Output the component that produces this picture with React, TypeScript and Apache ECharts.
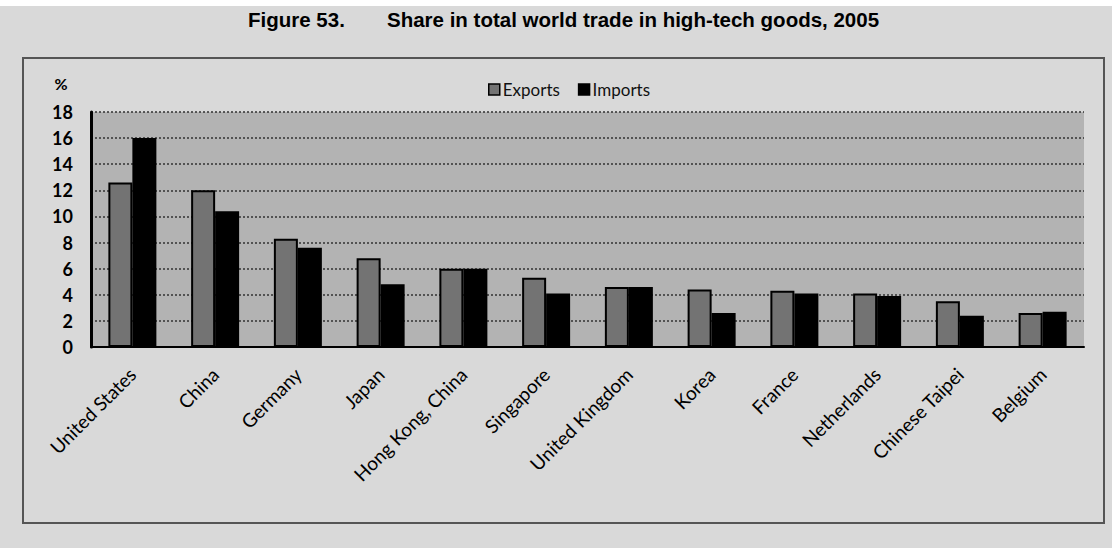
import React, { useEffect, useRef } from "react";
import * as echarts from "echarts";

const categories = [
  "United States", "China", "Germany", "Japan", "Hong Kong, China", "Singapore",
  "United Kingdom", "Korea", "France", "Netherlands", "Chinese Taipei", "Belgium",
];
const exportsShare = [12.6, 12.0, 8.3, 6.8, 6.0, 5.3, 4.6, 4.4, 4.3, 4.1, 3.5, 2.6];
const importsShare = [16.0, 10.4, 7.6, 4.8, 6.0, 4.1, 4.6, 2.6, 4.1, 3.9, 2.4, 2.7];
const yTicks = { min: 0, max: 18, interval: 2 };
const titleNum = "Figure 53.";
const titleText = "Share in total world trade in high-tech goods, 2005";

const labelFont = "Lato, 'Open Sans', sans-serif";
const titleFont = "'Liberation Sans', Arial, sans-serif";

export default function App() {
  const ref = useRef<HTMLDivElement>(null);
  useEffect(() => {
    document.body.style.margin = "0";
    const chart = echarts.init(ref.current!, null, { renderer: "svg" });
    chart.setOption({
      animation: false,
      backgroundColor: "#d9d9d9",
      graphic: [
        {
          type: "rect",
          shape: { x: 0, y: 0, width: 1112, height: 6 },
          style: { fill: "#ffffff" },
          z: -1,
        },
        {
          type: "rect",
          shape: { x: 23, y: 58, width: 1081, height: 465 },
          style: { fill: "none", stroke: "#555", lineWidth: 2 },
          z: -1,
        },
        {
          type: "text",
          x: 248,
          y: 19,
          style: { text: titleNum, font: `bold 20.5px ${titleFont}`, fill: "#000", verticalAlign: "middle" },
        },
        {
          type: "text",
          x: 387,
          y: 19,
          style: { text: titleText, font: `bold 20.5px ${titleFont}`, fill: "#000", verticalAlign: "middle" },
        },
        {
          type: "text",
          x: 61,
          y: 83,
          style: {
            text: "%",
            font: `bold 16px ${labelFont}`,
            fill: "#000",
            align: "center",
            verticalAlign: "middle",
          },
        },
      ],
      legend: {
        left: 483,
        top: 76,
        itemWidth: 11,
        itemHeight: 11,
        itemGap: 18,
        icon: "rect",
        textStyle: { fontFamily: labelFont, fontSize: 17, color: "#111", padding: [0, 0, 0, -2] },
        data: [
          { name: "Exports", itemStyle: { color: "#737373", borderColor: "#000", borderWidth: 1.5 } },
          { name: "Imports", itemStyle: { color: "#000", borderColor: "#000", borderWidth: 1.5 } },
        ],
      },
      grid: {
        left: 91,
        right: 28,
        top: 112,
        bottom: 201,
        show: true,
        backgroundColor: "#b3b3b3",
        borderWidth: 0,
      },
      xAxis: {
        type: "category",
        data: categories,
        axisLine: { show: true, lineStyle: { color: "#000", width: 2 } },
        axisTick: { show: false },
        axisLabel: {
          interval: 0,
          rotate: 45,
          margin: 24,
          fontFamily: labelFont,
          fontSize: 19,
          color: "#000",
        },
      },
      yAxis: {
        type: "value",
        min: yTicks.min,
        max: yTicks.max,
        interval: yTicks.interval,
        axisLine: { show: true, lineStyle: { color: "#000", width: 3 } },
        axisTick: { show: false },
        axisLabel: {
          margin: 18,
          fontFamily: labelFont,
          fontWeight: "bold",
          fontSize: 18,
          color: "#000",
        },
        splitLine: { show: true, lineStyle: { color: "#333", width: 1.5, type: [2, 2] } },
      },
      series: [
        {
          name: "Exports",
          type: "bar",
          data: exportsShare,
          barGap: "0%",
          barCategoryGap: "42%",
          itemStyle: { color: "#737373", borderColor: "#000", borderWidth: 2 },
        },
        {
          name: "Imports",
          type: "bar",
          data: importsShare,
          barGap: "0%",
          barCategoryGap: "42%",
          itemStyle: { color: "#000", borderColor: "#000", borderWidth: 2 },
        },
      ],
    });
    return () => chart.dispose();
  }, []);
  return <div ref={ref} style={{ width: 1112, height: 548 }} />;
}
